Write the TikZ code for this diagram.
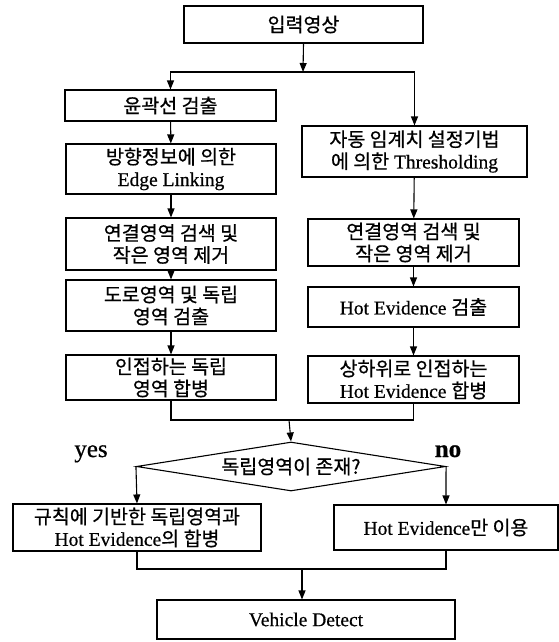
\documentclass[tikz,border=0pt]{standalone}
\usepackage{fontspec}
\setmainfont{Liberation Serif}[FakeBold=0.6,BoldFont=Liberation Serif Bold]
\newfontfamily\krfont{Noto Sans CJK KR}[FakeBold=0.6]
\newcommand\hk[1]{{\krfont #1}}
\usetikzlibrary{arrows.meta,shapes.geometric}
\begin{document}
\begin{tikzpicture}[x=1pt,y=-1pt,
  box/.style={draw,line width=1.1pt,inner sep=0pt,align=center,font=\fontsize{19.5}{22}\selectfont},
  conn/.style={line width=1.1pt},
  arr/.style={line width=1.1pt,-{Triangle[length=9pt,width=7pt]}},
  lbl/.style={font=\fontsize{25}{28}\selectfont,anchor=base}]
\fill[white] (0,0) rectangle (559,642);
\useasboundingbox (0,0) rectangle (559,642);
% top
\node[box,minimum width=239pt,minimum height=37pt] (top) at (303.5,24.5) {\hk{입력영상}};
% left column
\node[box,minimum width=211pt,minimum height=31pt] (b1) at (170.5,105.5) {\hk{윤곽선 검출}};
\node[box,minimum width=210pt,minimum height=50pt] (b2) at (171,169) {\hk{방향정보에 의한}\\Edge Linking};
\node[box,minimum width=210pt,minimum height=52pt] (b3) at (171,244) {\hk{연결영역 검색 및}\\\hk{작은 영역 제거}};
\node[box,minimum width=210pt,minimum height=51pt] (b4) at (171,305.5) {\hk{도로영역 및 독립}\\\hk{영역 검출}};
\node[box,minimum width=210pt,minimum height=45pt] (b5) at (171,377.5) {\hk{인접하는 독립}\\\hk{영역 합병}};
% right column
\node[box,minimum width=225pt,minimum height=51pt] (r1) at (414.5,151.5) {\hk{자동 임계치 설정기법}\\\hk{에 의한} Thresholding};
\node[box,minimum width=211pt,minimum height=47pt] (r2) at (413.5,242.5) {\hk{연결영역 검색 및}\\\hk{작은 영역 제거}};
\node[box,minimum width=211pt,minimum height=40pt] (r3) at (413.5,307) {Hot Evidence \hk{검출}};
\node[box,minimum width=211pt,minimum height=47pt] (r4) at (413.5,379.5) {\hk{상하위로 인접하는}\\Hot Evidence \hk{합병}};
% decision
\node[box,diamond,aspect=6.3,minimum width=309pt,minimum height=49pt] (dia) at (291,466.5) {\hk{독립영역이 존재?}};
\node[lbl] (yes) at (91,457) {yes};
\node[lbl] (no) at (448,457) {\bfseries no};
% branches
\node[box,minimum width=248pt,minimum height=47pt] (y1) at (137,527.5) {\hk{규칙에 기반한 독립영역과}\\Hot Evidence\hk{의 합병}};
\node[box,minimum width=224pt,minimum height=45pt] (n1) at (446,527.5) {Hot Evidence\hk{만 이용}};
\node[box,minimum width=298pt,minimum height=39pt] (v) at (306,619.5) {Vehicle Detect};
% junctions
\coordinate (j1) at (303,72);
\coordinate (m) at (289,420);
\coordinate (j2) at (302,569);
% connectors
\draw[arr] (top.south) -- (j1);
\draw[arr] (j1) -| (b1.north);
\draw[arr] (j1) -| (r1.north);
\draw[arr] (b1) -- (b2);
\draw[arr] (b2) -- (b3);
\draw[arr] (b3) -- (b4);
\draw[arr] (b4) -- (b5);
\draw[arr] (r1) -- (r2);
\draw[arr] (r2) -- (r3);
\draw[arr] (r3) -- (r4);
\draw[conn] (b5.south) |- (m);
\draw[conn] (r4.south) |- (m);
\draw[arr] (m) -- (dia.north);
\draw[arr] (dia.west) -- (y1.north);
\draw[arr] (dia.east) -- (n1.north);
\draw[conn] (y1.south) |- (j2);
\draw[conn] (n1.south) |- (j2);
\draw[arr] (j2) -- (j2 |- v.north);
\end{tikzpicture}
\end{document}
